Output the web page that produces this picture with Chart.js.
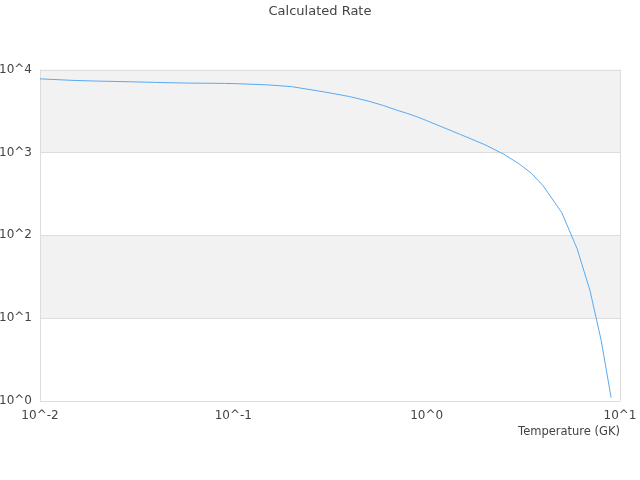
<!DOCTYPE html>
<html>
<head>
<meta charset="utf-8">
<script src="https://cdn.jsdelivr.net/npm/chart.js@4/dist/chart.umd.min.js"></script>
<style>
  html, body { margin: 0; padding: 0; background: #fff; }
  #wrap { width: 640px; height: 480px; }
</style>
</head>
<body>
<div id="wrap"><canvas id="canvas"></canvas></div>
<script>
// temperatures in GK and the rate
var temperatures = [0.01, 0.015, 0.02, 0.03, 0.04, 0.05, 0.06, 0.07, 0.08, 0.09,
    0.1, 0.15, 0.2, 0.3, 0.4, 0.5, 0.6, 0.7, 0.8, 0.9,
    1, 1.5, 2, 2.5, 3, 3.5, 4, 5, 6, 7, 8, 9];
var rates = [7730, 7400, 7260, 7120, 7000, 6920, 6870, 6850, 6830, 6810,
    6780, 6540, 6230, 5340, 4720, 4160, 3670, 3240, 2940, 2670,
    2420, 1640, 1240, 953, 731, 553, 396, 187, 68.7, 21.3, 5.3, 1.09];

var xTicks = [0.01, 0.1, 1, 10];
var xTickLabels = ['10^-2', '10^-1', '10^0', '10^1'];
var yTicks = [1, 10, 100, 1000, 10000];
var yTickLabels = ['10^0', '10^1', '10^2', '10^3', '10^4'];

Chart.defaults.font.family = "'DejaVu Sans', sans-serif";
Chart.defaults.font.size = 12;
Chart.defaults.color = '#444';

// grey bands between every other decade, plus frame on the right
var bands = {
    id: 'bands',
    beforeDatasetsDraw: function(chart) {
        var ctx = chart.ctx, y = chart.scales.y, a = chart.chartArea;
        ctx.save();
        ctx.fillStyle = '#f2f2f2';
        for (var i = yTicks.length - 1; i > 0; i -= 2) {
            var top = y.getPixelForValue(yTicks[i]);
            var bot = y.getPixelForValue(yTicks[i - 1]);
            ctx.fillRect(a.left, top, a.right - a.left, bot - top);
        }
        ctx.strokeStyle = '#dddddd';
        ctx.lineWidth = 1;
        for (var j = 0; j < yTicks.length; j++) {
            var py = Math.round(y.getPixelForValue(yTicks[j])) + 0.5;
            ctx.beginPath();
            ctx.moveTo(a.left, py);
            ctx.lineTo(a.right, py);
            ctx.stroke();
        }
        ctx.beginPath();
        ctx.moveTo(Math.round(a.left) + 0.5, a.top);
        ctx.lineTo(Math.round(a.left) + 0.5, a.bottom);
        ctx.moveTo(Math.round(a.right) + 0.5, a.top);
        ctx.lineTo(Math.round(a.right) + 0.5, a.bottom);
        ctx.stroke();
        ctx.restore();
    }
};

var points = [];
for (var i = 0; i < temperatures.length; i++) {
    points.push({ x: temperatures[i], y: rates[i] });
}

var config = {
    type: 'line',
    data: {
        datasets: [{
            label: 'Rate',
            data: points,
            borderColor: '#5aa9f0',
            backgroundColor: '#5aa9f0',
            borderWidth: 1,
            pointRadius: 0,
            fill: false,
            tension: 0
        }]
    },
    options: {
        responsive: true,
        maintainAspectRatio: false,
        animation: false,
        layout: { padding: { left: 0, right: 0, top: 0, bottom: 41 } },
        plugins: {
            legend: { display: false },
            tooltip: { enabled: false },
            title: {
                display: true,
                text: 'Calculated Rate',
                color: '#444',
                font: { size: 13, weight: 'normal' },
                padding: { top: 4, bottom: 50 }
            }
        },
        scales: {
            x: {
                type: 'logarithmic',
                min: 0.01,
                max: 10,
                afterBuildTicks: function(scale) {
                    scale.ticks = xTicks.map(function(v) { return { value: v }; });
                },
                afterFit: function(scale) { scale.paddingRight = 20; scale.paddingLeft = 0; },
                ticks: {
                    autoSkip: false,
                    maxRotation: 0,
                    padding: 0,
                    callback: function(v) { return xTickLabels[xTicks.indexOf(v)]; }
                },
                grid: { display: false },
                border: { display: false },
                title: {
                    display: true,
                    text: 'Temperature (GK)',
                    align: 'end',
                    font: { size: 11.5 },
                    padding: { top: 2, bottom: 0 }
                }
            },
            y: {
                type: 'logarithmic',
                min: 1,
                max: 10000,
                afterBuildTicks: function(scale) {
                    scale.ticks = yTicks.map(function(v) { return { value: v }; });
                },
                afterFit: function(scale) { scale.width = 40; },
                ticks: {
                    padding: 8,
                    callback: function(v) { return yTickLabels[yTicks.indexOf(v)]; }
                },
                grid: { display: false, drawTicks: false },
                border: { display: false }
            }
        }
    },
    plugins: [bands]
};

window.addEventListener('load', function() {
    var ctx = document.getElementById('canvas').getContext('2d');
    window.RateChart = new Chart(ctx, config);
});
</script>
</body>
</html>
